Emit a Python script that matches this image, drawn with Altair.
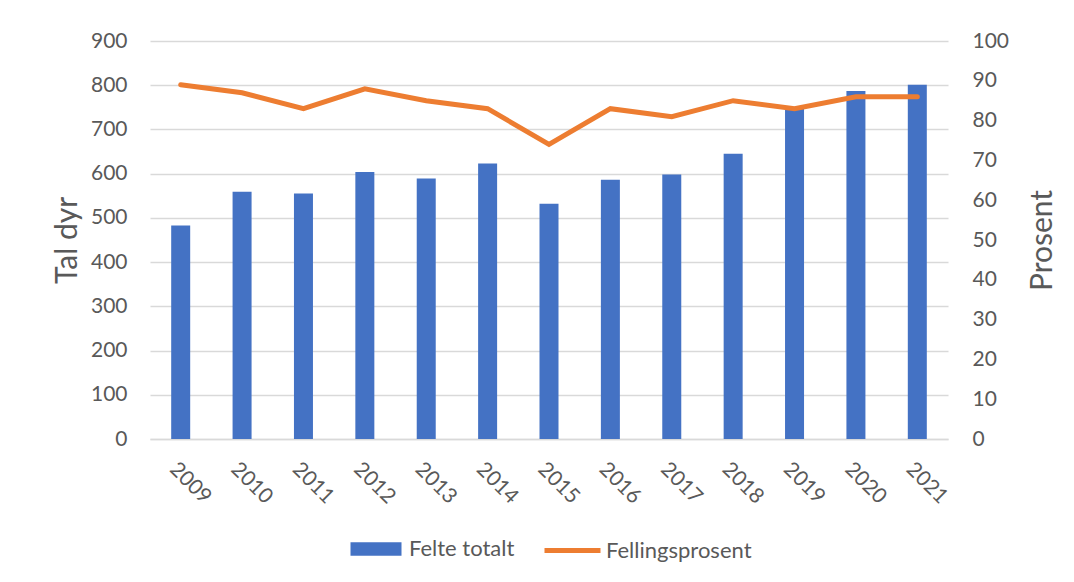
import altair as alt
import pandas as pd

years = ["2009", "2010", "2011", "2012", "2013", "2014", "2015",
         "2016", "2017", "2018", "2019", "2020", "2021"]
felte = [483, 559, 555, 604, 589, 623, 532, 586, 598, 645, 749, 787, 801]
prosent = [89, 87, 83, 88, 85, 83, 74, 83, 81, 85, 83, 86, 86]

df = pd.DataFrame({"year": years, "felte": felte, "prosent": prosent,
                   "s1": "Felte totalt", "s2": "Fellingsprosent"})

FONT = "Lato"
GREY = "#595959"
TICK = 21
TITLE = 30
LEG = 22

x = alt.X("year:N", title=None,
          scale=alt.Scale(paddingInner=0, paddingOuter=0),
          axis=alt.Axis(labelAngle=45, labelFontSize=TICK, labelColor=GREY,
                        labelFont=FONT, ticks=False, domainColor="#d9d9d9",
                        domainWidth=1.5, labelPadding=19, grid=False))

bars = alt.Chart(df).mark_bar(size=19, color="#4472c4").encode(
    x=x,
    y=alt.Y("felte:Q", title="Tal dyr",
            scale=alt.Scale(domain=[0, 900]),
            axis=alt.Axis(values=list(range(0, 901, 100)), labelOverlap=False,
                          labelFontSize=TICK, labelColor=GREY, labelFont=FONT,
                          titleFontSize=TITLE, titleColor=GREY, titleFont=FONT,
                          titleFontWeight="normal", titlePadding=8,
                          ticks=False, domain=False, labelPadding=23,
                          gridColor="#d9d9d9", gridWidth=1.3)),
    fill=alt.Fill("s1:N", title=None,
                  scale=alt.Scale(domain=["Felte totalt"], range=["#4472c4"]),
                  legend=alt.Legend(orient="none", legendX=209, legendY=491,
                                    symbolType="M-1.5,-0.4H1.5V0.4H-1.5Z",
                                    symbolSize=1156, labelFontSize=LEG,
                                    labelColor=GREY, labelFont=FONT,
                                    labelOffset=16,
                                    symbolStrokeWidth=0)),
)

line = alt.Chart(df).mark_line(strokeWidth=5, color="#ed7d31",
                               strokeCap="round", strokeJoin="miter").encode(
    x=x,
    y=alt.Y("prosent:Q", title="Prosent",
            scale=alt.Scale(domain=[0, 100]),
            axis=alt.Axis(orient="right", values=list(range(0, 101, 10)),
                          labelOverlap=False,
                          labelFontSize=TICK, labelColor=GREY, labelFont=FONT,
                          titleFontSize=TITLE, titleColor=GREY, titleFont=FONT,
                          titleFontWeight="normal", titlePadding=49,
                          titleAngle=270,
                          ticks=False, domain=False, grid=False,
                          labelPadding=24)),
    stroke=alt.Stroke("s2:N", title=None,
                      scale=alt.Scale(domain=["Fellingsprosent"], range=["#ed7d31"]),
                      legend=alt.Legend(orient="none", legendX=392, legendY=479,
                                        symbolType="stroke",
                                        symbolStrokeWidth=5, symbolSize=3136,
                                        labelFontSize=LEG, labelColor=GREY,
                                        labelOffset=3,
                                        labelFont=FONT)),
)

chart = alt.layer(bars, line).resolve_scale(
    y="independent", fill="independent", stroke="independent"
).properties(
    width=798, height=398,
    padding={"left": 44, "top": 22, "right": 5, "bottom": 5}
).configure_view(stroke=None)

chart.save("out.html", embed_options={"renderer": "svg", "actions": False})
